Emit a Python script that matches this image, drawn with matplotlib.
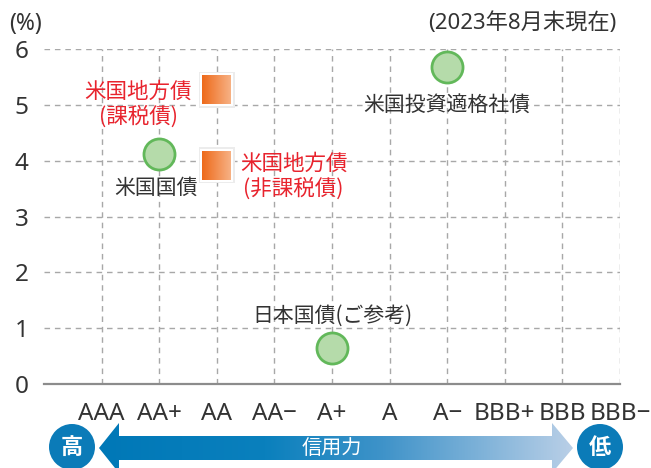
import numpy as np
import matplotlib
matplotlib.use('Agg')
import matplotlib.pyplot as plt
from matplotlib.colors import LinearSegmentedColormap
from matplotlib.patches import Polygon, Circle, Rectangle

plt.rcParams['font.family'] = ['Noto Sans CJK JP', 'DejaVu Sans']
LATIN = ['Noto Sans', 'Noto Sans CJK JP']

# データ（2023年8月末現在）
ratings = ['AAA', 'AA+', 'AA', 'AA−', 'A+', 'A', 'A−', 'BBB+', 'BBB', 'BBB−']
yticks = [0, 1, 2, 3, 4, 5, 6]

circle_names = ['米国国債', '米国投資適格社債', '日本国債(ご参考)']
circle_rating = ['AA+', 'A−', 'A+']
circle_yield = [4.12, 5.68, 0.64]

square_names = ['米国地方債\n(課税債)', '米国地方債\n(非課税債)']
square_rating = ['AA', 'AA']
square_yield = [5.27, 3.92]

DARK = '#333333'
RED = '#e8232d'

W, H = 651, 468
fig = plt.figure(figsize=(W / 100, H / 100), dpi=100)
ax = fig.add_axes([44 / W, 84 / H, 576 / W, 335 / H])

xpos = {r: i for i, r in enumerate(ratings)}
ax.set_xlim(-1, len(ratings) - 1)
ax.set_ylim(0, 6)
ax.set_xticks(range(len(ratings)))
ax.set_xticklabels(ratings, family=LATIN)
ax.set_yticks(yticks)
ax.set_yticklabels([str(v) for v in yticks], family=LATIN)
ax.tick_params(axis='both', length=0, labelsize=17.5, colors=DARK)
ax.tick_params(axis='x', pad=13)
ax.tick_params(axis='y', pad=11)
ax.grid(True, color='#a8a8a8', linestyle=(0, (4, 3.5)), linewidth=1)
for s in ['top', 'right', 'left']:
    ax.spines[s].set_visible(False)
ax.spines['bottom'].set_color('#8c8c8c')
ax.spines['bottom'].set_linewidth(1.6)
ax.set_axisbelow(True)

# 丸マーカー
cx = [xpos[r] for r in circle_rating]
ax.scatter(cx, circle_yield, s=500, c='#b5dbaa', edgecolors='#62b85a',
           linewidths=2, zorder=3)
circle_off = [(-3, -34), (0, -38), (0, 32)]
for name, x, y, off in zip(circle_names, cx, circle_yield, circle_off):
    ax.annotate(name, (x, y), xytext=off, textcoords='offset pixels',
                ha='center', va='center', fontsize=15, color=DARK)

# 四角マーカー（グラデーション）
px_x = 576 / (len(ratings))
px_y = 335 / 6
half = 14.5
grad = np.linspace(0, 1, 64).reshape(1, -1)
orange = LinearSegmentedColormap.from_list('og', ['#ee6a1a', '#f7b184'])
sx = [xpos[r] for r in square_rating]
for x, y in zip(sx, square_yield):
    hw, hh = half / px_x, half / px_y
    sw, sh = (half + 3.5) / px_x, (half + 3.5) / px_y
    ax.add_patch(Rectangle((x - sw, y - sh), 2 * sw, 2 * sh,
                           facecolor='#ececec', edgecolor='none', zorder=2.8))
    ax.add_patch(Rectangle((x - hw - 2 / px_x, y - hh - 2 / px_y),
                           2 * hw + 4 / px_x, 2 * hh + 4 / px_y,
                           facecolor='white', edgecolor='none', zorder=2.9))
    ax.imshow(grad, cmap=orange, extent=[x - hw, x + hw, y - hh, y + hh],
              aspect='auto', zorder=3)
ax.set_xlim(-1, len(ratings) - 1)
ax.set_ylim(0, 6)

square_off = [(-25, -15, 'right'), (23, -11, 'left')]
for name, x, y, (dx, dy, ha) in zip(square_names, sx, square_yield, square_off):
    ax.annotate(name, (x, y), xytext=(dx, dy), textcoords='offset pixels',
                ha=ha, va='center', ma='center', fontsize=15.5, color=RED,
                linespacing=1.15)

fig.text(9 / W, 1 - 24 / H, '(%)', fontsize=16.5, color=DARK, va='center',
         family=LATIN)
fig.text(616 / W, 1 - 23 / H, '(2023年8月末現在)', fontsize=16, color=DARK,
         va='center', ha='right', family=LATIN)

# 信用力の矢印
ov = fig.add_axes([0, 0, 1, 1], zorder=-1)
ov.set_xlim(0, W)
ov.set_ylim(H, 0)
ov.axis('off')
arrow = Polygon([(99, 448), (119, 423), (119, 436), (552, 436), (552, 423),
                 (573, 448), (552, 473), (552, 460), (119, 460), (119, 473)],
                closed=True, facecolor='none', edgecolor='none')
ov.add_patch(arrow)
blue = LinearSegmentedColormap.from_list(
    'bl', [(0, '#0078b7'), (0.35, '#0a80bd'), (0.6, '#3f93c9'), (1, '#b9cfe7')])
img = ov.imshow(np.linspace(0, 1, 256).reshape(1, -1), cmap=blue,
                extent=[99, 573, 473, 423], aspect='auto')
img.set_clip_path(arrow)
ov.set_xlim(0, W)
ov.set_ylim(H, 0)
ov.text(332, 448, '信用力', color='white', fontsize=14.5, ha='center', va='center')
for label, x in [('高', 72), ('低', 600)]:
    ov.add_patch(Circle((x, 447), 23, facecolor='#0b7bb8', edgecolor='none'))
    ov.text(x, 447, label, color='white', fontsize=16, fontweight='bold',
            ha='center', va='center')

fig.savefig('out.png', dpi=100)
